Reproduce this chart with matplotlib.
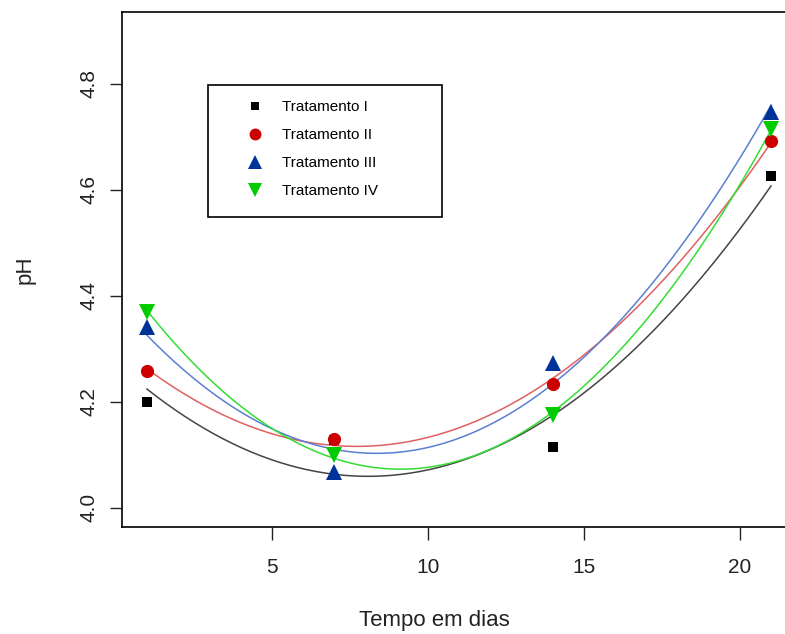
import numpy as np
import matplotlib
matplotlib.use("Agg")
import matplotlib.pyplot as plt
from matplotlib.patches import Rectangle

# ---- data ----
dias = np.array([1, 7, 14, 21])
trat_I = np.array([4.200, 4.128, 4.115, 4.627])
trat_II = np.array([4.258, 4.130, 4.233, 4.693])
trat_III = np.array([4.342, 4.068, 4.273, 4.747])
trat_IV = np.array([4.370, 4.100, 4.175, 4.715])

nomes = ["Tratamento I", "Tratamento II", "Tratamento III", "Tratamento IV"]
series = [trat_I, trat_II, trat_III, trat_IV]
cor_ponto = ["#000000", "#cc0000", "#003399", "#00cc00"]
cor_linha = ["#444444", "#e06060", "#5a7fd0", "#33dd33"]
marcas = ["s", "o", "^", "v"]
tam = [7, 9.5, 11, 11]

plt.rcParams["font.family"] = ["Liberation Sans", "DejaVu Sans"]

fig = plt.figure(figsize=(7.85, 6.34), dpi=100)
ax = fig.add_axes([0.1554, 0.1688, 0.8586, 0.8124])

xx = np.linspace(dias.min(), dias.max(), 200)
for y, c_l in zip(series, cor_linha):
    # quadratic fit, as in the original
    coef = np.polyfit(dias, y, 2)
    ax.plot(xx, np.polyval(coef, xx), color=c_l, lw=1.1, zorder=2)

handles = []
for y, nome, c_p, m, s in zip(series, nomes, cor_ponto, marcas, tam):
    h, = ax.plot(dias, y, ls="none", marker=m, ms=s, color=c_p,
                 markeredgewidth=0, label=nome, zorder=3)
    handles.append(h)

ax.set_xlim(0.2, 21.8)
ax.set_ylim(3.964, 4.936)
ax.set_xticks([5, 10, 15, 20])
ax.set_yticks([4.0, 4.2, 4.4, 4.6, 4.8])
ax.set_yticklabels(["4.0", "4.2", "4.4", "4.6", "4.8"], rotation=90, va="center")
ax.tick_params(direction="out", length=9, width=1, labelsize=15,
               colors="#222222")
ax.tick_params(axis="x", pad=13)
ax.tick_params(axis="y", pad=8)
for sp in ax.spines.values():
    sp.set_linewidth(1.2)

ax.set_xlabel("Tempo em dias", fontsize=16, color="#222222")
ax.xaxis.set_label_coords(0.463, -0.1825)
ax.xaxis.label.set_va("center")
ax.set_ylabel("pH", fontsize=16, color="#222222")
ax.yaxis.set_label_coords(-0.144, 0.499)
ax.yaxis.label.set_va("center")

# legend box drawn separately so the padding matches the original
ax.add_patch(Rectangle((0.1276, 0.6019), 0.3472, 0.2564, transform=ax.transAxes,
                       fill=False, edgecolor="black", lw=1.2, zorder=4))
leg = ax.legend(handles=handles, loc="upper left",
                bbox_to_anchor=(0.175, 0.829), fontsize=11,
                frameon=False, borderpad=0, labelspacing=0.92,
                handlelength=2.0, handletextpad=0.77, borderaxespad=0,
                markerscale=0.9)

fig.savefig("out.png", dpi=100)
